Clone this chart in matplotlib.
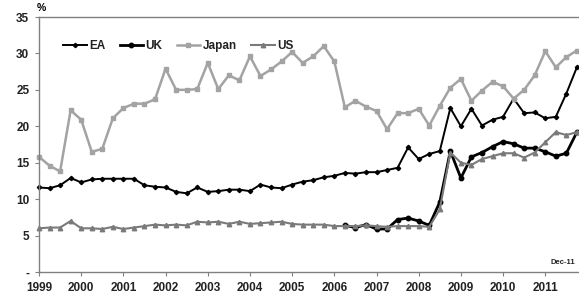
import numpy as np
import matplotlib
matplotlib.use("Agg")
import matplotlib.pyplot as plt

plt.rcParams['font.family'] = ['Liberation Sans', 'DejaVu Sans']

# quarterly, Q1 1999 .. Q4 2011
years = [str(y) for y in range(1999, 2012)]

ea = [11.6, 11.5, 11.9, 12.9, 12.3, 12.7, 12.8, 12.8, 12.8, 12.8, 11.9, 11.7,
      11.6, 11.0, 10.8, 11.6, 11.0, 11.1, 11.3, 11.3, 11.1, 12.0, 11.6, 11.5,
      12.0, 12.4, 12.6, 13.0, 13.2, 13.6, 13.5, 13.7, 13.7, 14.0, 14.3, 17.1,
      15.5, 16.2, 16.6, 22.5, 20.0, 22.4, 20.1, 20.9, 21.3, 23.8, 21.8, 21.9,
      21.1, 21.3, 24.5, 28.1]

uk = [None] * 29 + [6.4, 6.1, 6.5, 5.9, 5.9, 7.2, 7.4, 7.0, 6.4, 9.6, 16.6,
                    12.9, 15.8, 16.4, 17.2, 17.9, 17.6, 17.0, 17.0, 16.5, 15.9,
                    16.3, 19.2]

japan = [15.8, 14.6, 13.8, 22.2, 20.9, 16.5, 16.9, 21.1, 22.5, 23.1, 23.1, 23.7,
         27.9, 25.0, 25.0, 25.1, 28.7, 25.1, 27.0, 26.3, 29.6, 26.9, 27.8, 28.9,
         30.2, 28.7, 29.6, 31.0, 28.9, 22.6, 23.5, 22.7, 22.1, 19.6, 21.8, 21.8,
         22.4, 20.1, 22.8, 25.3, 26.5, 23.5, 24.9, 26.1, 25.5, 23.8, 25.0, 27.0,
         30.3, 28.1, 29.5, 30.4]

us = [6.0, 6.1, 6.1, 7.0, 6.0, 6.0, 5.9, 6.2, 5.9, 6.1, 6.3, 6.5,
      6.4, 6.5, 6.4, 6.9, 6.8, 6.9, 6.6, 6.9, 6.6, 6.7, 6.8, 6.9,
      6.6, 6.5, 6.5, 6.5, 6.3, 6.3, 6.3, 6.4, 6.3, 6.2, 6.3, 6.3,
      6.3, 6.2, 8.6, 16.4, 15.0, 14.7, 15.5, 15.9, 16.3, 16.3, 15.7, 16.4,
      17.8, 19.2, 18.8, 19.2]

x = np.arange(len(ea))
uk = np.array([np.nan if v is None else v for v in uk])

fig = plt.figure(figsize=(5.79, 2.99), dpi=100)
ax = fig.add_axes([39 / 579, 27 / 299, 540 / 579, 255 / 299])

ax.plot(x, ea, color='black', lw=1.4, marker='D', ms=2.2, label='EA', clip_on=False)
ax.plot(x, uk, color='black', lw=2.0, marker='o', ms=3.2, label='UK', clip_on=False)
ax.plot(x, japan, color='#a3a3a3', lw=1.8, marker='s', ms=3.2, label='Japan', clip_on=False)
ax.plot(x, us, color='#7a7a7a', lw=1.5, marker='^', ms=3.2, label='US', clip_on=False)

ax.set_xlim(0, 51.2)
ax.set_ylim(0, 35)
ax.set_xticks(np.arange(0, 49, 4))
ax.set_xticklabels(years)
ax.set_yticks(range(0, 36, 5))
ax.set_yticklabels(['-'] + [str(v) for v in range(5, 36, 5)])

for s in ['left', 'bottom', 'top']:
    ax.spines[s].set_color('#808080')
    ax.spines[s].set_linewidth(1.0)
ax.spines['right'].set_visible(False)
ax.tick_params(axis='both', length=3, color='#808080', labelsize=8.5, pad=4)
for lab in ax.get_xticklabels() + ax.get_yticklabels():
    lab.set_fontweight('bold')
    lab.set_color('#222222')

leg = ax.legend(loc='upper left', bbox_to_anchor=(0.025, 0.95), ncol=4, frameon=False,
                fontsize=8.5, handlelength=2.0, handletextpad=0.2, columnspacing=1.2)
for t in leg.get_texts():
    t.set_fontweight('bold')
    t.set_color('#222222')

fig.text(37 / 579, 1 - 8 / 299, '%', fontsize=7.5, fontweight='bold', va='center', ha='left')
fig.text(575 / 579, 1 - 262 / 299, 'Dec-11', fontsize=5.5, fontweight='bold', va='center', ha='right',
         color='#222222')

fig.savefig('out.png', dpi=100)
